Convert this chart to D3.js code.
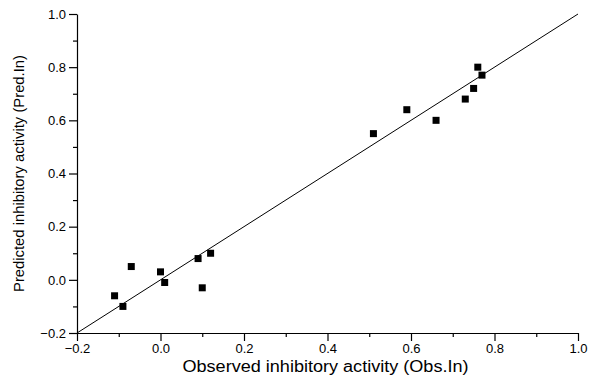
<!DOCTYPE html>
<html>
<head>
<meta charset="utf-8">
<script src="https://cdn.jsdelivr.net/npm/d3@7"></script>
<style>
  html, body { margin: 0; padding: 0; background: #fff; }
  svg text { font-family: "Liberation Sans", Arial, sans-serif; fill: #000; }
</style>
</head>
<body>
<div id="chart"></div>
<script>
// observed vs predicted (ln) values
const observed = [-0.11, -0.09, -0.07, 0.0, 0.01, 0.09, 0.10, 0.12, 0.51, 0.59, 0.66, 0.73, 0.75, 0.76, 0.77];
const predicted = [-0.06, -0.10, 0.05, 0.03, -0.01, 0.08, -0.03, 0.10, 0.55, 0.64, 0.60, 0.68, 0.72, 0.80, 0.77];
const majorTicks = [-0.2, 0.0, 0.2, 0.4, 0.6, 0.8, 1.0];
const minorTicks = [-0.1, 0.1, 0.3, 0.5, 0.7, 0.9];
const identity = [-0.2, 1.0];

const width = 589;
const height = 385;
const margin = { left: 77, top: 14, right: 11, bottom: 52 };
const MARKER = 7;

const svg = d3.select('#chart')
  .append('svg')
  .attr('width', width)
  .attr('height', height);

const x = d3.scaleLinear()
  .domain([-0.2, 1.0])
  .range([margin.left, width - margin.right]);

const y = d3.scaleLinear()
  .domain([-0.2, 1.0])
  .range([height - margin.bottom, margin.top]);

const fmt = d3.format('.1f');

// minor ticks first, then the labelled major axis on top
svg.append('g')
  .attr('transform', `translate(0,${y.range()[0]})`)
  .call(d3.axisBottom(x).tickValues(minorTicks).tickSize(4).tickFormat(''))
  .call((g) => g.select('.domain').remove());

svg.append('g')
  .attr('transform', `translate(${x.range()[0]},0)`)
  .call(d3.axisLeft(y).tickValues(minorTicks).tickSize(4).tickFormat(''))
  .call((g) => g.select('.domain').remove());

svg.append('g')
  .attr('transform', `translate(0,${y.range()[0]})`)
  .call(d3.axisBottom(x).tickValues(majorTicks).tickSize(8).tickSizeOuter(0)
    .tickPadding(3).tickFormat(fmt));

svg.append('g')
  .attr('transform', `translate(${x.range()[0]},0)`)
  .call(d3.axisLeft(y).tickValues(majorTicks).tickSize(8).tickSizeOuter(0)
    .tickPadding(3).tickFormat(fmt));

svg.selectAll('.tick text')
  .style('font-size', '13px')
  .style('fill', '#000');
svg.selectAll('.domain, .tick line')
  .attr('stroke', '#000')
  .attr('stroke-width', 1.2);

// y = x reference line
svg.append('line')
  .attr('x1', x(identity[0]))
  .attr('y1', y(identity[0]))
  .attr('x2', x(identity[1]))
  .attr('y2', y(identity[1]))
  .attr('stroke', '#000')
  .attr('stroke-width', 1);

svg.append('g')
  .selectAll('rect')
  .data(observed.map((d, i) => [d, predicted[i]]))
  .enter()
    .append('rect')
    .attr('x', (d) => x(d[0]) - MARKER / 2)
    .attr('y', (d) => y(d[1]) - MARKER / 2)
    .attr('width', MARKER)
    .attr('height', MARKER)
    .attr('fill', '#000');

const xMid = (x.range()[0] + x.range()[1]) / 2;
const yMid = (y.range()[0] + y.range()[1]) / 2;

svg.append('text')
  .attr('text-anchor', 'middle')
  .attr('x', xMid - 2)
  .attr('y', 372)
  .attr('textLength', 286)
  .attr('lengthAdjust', 'spacingAndGlyphs')
  .style('font-size', '16px')
  .text('Observed inhibitory activity (Obs.In)');

svg.append('text')
  .attr('text-anchor', 'middle')
  .attr('transform', `translate(24,${yMid}) rotate(-90)`)
  .attr('textLength', 237)
  .attr('lengthAdjust', 'spacingAndGlyphs')
  .style('font-size', '15px')
  .text('Predicted inhibitory activity (Pred.In)');
</script>
</body>
</html>
